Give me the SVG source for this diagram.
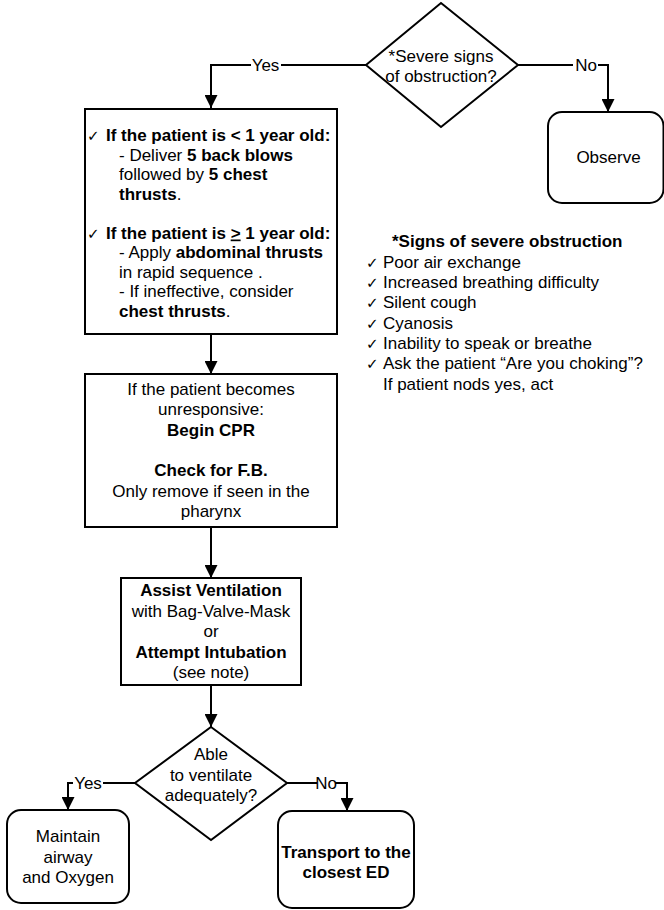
<svg xmlns="http://www.w3.org/2000/svg" width="664" height="910" viewBox="0 0 664 910">
  <style>
    text { font-family: "Liberation Sans", Arial, sans-serif; font-size: 17px; fill: #000; }
    .c { text-anchor: middle; }
    .b { font-weight: bold; }
    .chk { font-family: "DejaVu Sans", sans-serif; font-size: 15px; }
    .shape { fill: #fff; stroke: #000; stroke-width: 2; }
    .edge { fill: none; stroke: #000; stroke-width: 2; }
    .lbl { fill: #fff; stroke: none; }
  </style>
  <defs>
    <marker id="arrow" markerWidth="13" markerHeight="13" refX="13" refY="6.5" orient="auto" markerUnits="userSpaceOnUse">
      <path d="M0,0 L13,6.5 L0,13 Z" fill="#000"/>
    </marker>
  </defs>

  <rect width="664" height="910" fill="#fff"/>

  <!-- Connectors -->
  <g id="connectors">
    <!-- top decision: Yes branch -->
    <path class="edge" d="M366,65 H211 V108" marker-end="url(#arrow)"/>
    <rect class="lbl" x="251" y="57" width="30" height="17"/>
    <text class="c" x="265.5" y="71">Yes</text>
    <!-- top decision: No branch -->
    <path class="edge" d="M518,65 H608 V112" marker-end="url(#arrow)"/>
    <rect class="lbl" x="573" y="57" width="25" height="17"/>
    <text class="c" x="586" y="71">No</text>
    <!-- main chain -->
    <path class="edge" d="M211,334 V374" marker-end="url(#arrow)"/>
    <path class="edge" d="M211,527 V578" marker-end="url(#arrow)"/>
    <path class="edge" d="M211,685 V727" marker-end="url(#arrow)"/>
    <!-- bottom decision: Yes branch -->
    <path class="edge" d="M135,783 H68 V810" marker-end="url(#arrow)"/>
    <rect class="lbl" x="73" y="775" width="30" height="17"/>
    <text class="c" x="88" y="789">Yes</text>
    <!-- bottom decision: No branch -->
    <path class="edge" d="M287,783 H347 V811" marker-end="url(#arrow)"/>
    <rect class="lbl" x="317" y="775" width="18" height="17"/>
    <text class="c" x="326" y="789">No</text>
  </g>

  <!-- Decision: severe obstruction -->
  <g id="decision-severe">
    <polygon class="shape" points="441,3 518,65 441,127 366,65"/>
    <text class="c" x="441" y="62">*Severe signs</text>
    <text class="c" x="441" y="82">of obstruction?</text>
  </g>

  <!-- Observe -->
  <g id="observe">
    <rect class="shape" x="548" y="112" width="115.5" height="91" rx="14" ry="14"/>
    <text class="c" x="608.5" y="163">Observe</text>
  </g>

  <!-- Back blows / thrusts -->
  <g id="thrusts">
    <rect class="shape" x="85" y="109" width="252" height="225"/>
    <text class="chk" x="87" y="141">✓</text>
    <text class="b" x="106" y="141">If the patient is &lt; 1 year old:</text>
    <text x="119" y="160.5">- Deliver <tspan class="b">5 back blows</tspan></text>
    <text x="119" y="180">followed by <tspan class="b">5 chest</tspan></text>
    <text x="119" y="199.5"><tspan class="b">thrusts</tspan>.</text>
    <text class="chk" x="87" y="238.5">✓</text>
    <text class="b" x="106" y="238.5">If the patient is <tspan text-decoration="underline">&gt;</tspan> 1 year old:</text>
    <text x="119" y="258">- Apply <tspan class="b">abdominal thrusts</tspan></text>
    <text x="119" y="277.5">in rapid sequence .</text>
    <text x="119" y="297">- If ineffective, consider</text>
    <text x="119" y="316.5"><tspan class="b">chest thrusts</tspan>.</text>
  </g>

  <!-- Signs of severe obstruction -->
  <g id="signs-list">
    <text class="b" x="392" y="247">*Signs of severe obstruction</text>
    <text class="chk" x="366" y="267.5">✓</text>
    <text x="383" y="267.5">Poor air exchange</text>
    <text class="chk" x="366" y="288">✓</text>
    <text x="383" y="288">Increased breathing difficulty</text>
    <text class="chk" x="366" y="308">✓</text>
    <text x="383" y="308">Silent cough</text>
    <text class="chk" x="366" y="328.5">✓</text>
    <text x="383" y="328.5">Cyanosis</text>
    <text class="chk" x="366" y="349">✓</text>
    <text x="383" y="349">Inability to speak or breathe</text>
    <text class="chk" x="366" y="369">✓</text>
    <text x="383" y="369">Ask the patient “Are you choking”?</text>
    <text x="383" y="389.5">If patient nods yes, act</text>
  </g>

  <!-- Unresponsive: CPR -->
  <g id="cpr">
    <rect class="shape" x="85" y="374" width="252" height="153"/>
    <text class="c" x="211" y="395">If the patient becomes</text>
    <text class="c" x="211" y="415.3">unresponsive:</text>
    <text class="c b" x="211" y="435.6">Begin CPR</text>
    <text class="c b" x="211" y="476.3">Check for F.B.</text>
    <text class="c" x="211" y="496.6">Only remove if seen in the</text>
    <text class="c" x="211" y="517">pharynx</text>
  </g>

  <!-- Ventilation -->
  <g id="ventilation">
    <rect class="shape" x="121" y="578" width="180" height="107"/>
    <text class="c b" x="211" y="596">Assist Ventilation</text>
    <text class="c" x="211" y="616.5">with Bag-Valve-Mask</text>
    <text class="c" x="211" y="637">or</text>
    <text class="c b" x="211" y="657.5">Attempt Intubation</text>
    <text class="c" x="211" y="678">(see note)</text>
  </g>

  <!-- Decision: able to ventilate -->
  <g id="decision-ventilate">
    <polygon class="shape" points="211,727 287,783 211,840 135,783"/>
    <text class="c" x="211" y="760">Able</text>
    <text class="c" x="211" y="781">to ventilate</text>
    <text class="c" x="211" y="801">adequately?</text>
  </g>

  <!-- Maintain airway -->
  <g id="maintain">
    <rect class="shape" x="7" y="810" width="122" height="93" rx="14" ry="14"/>
    <text class="c" x="68" y="842">Maintain</text>
    <text class="c" x="68" y="862.5">airway</text>
    <text class="c" x="68" y="883">and Oxygen</text>
  </g>

  <!-- Transport -->
  <g id="transport">
    <rect class="shape" x="278" y="811" width="136" height="97" rx="14" ry="14"/>
    <text class="c b" x="346" y="858">Transport to the</text>
    <text class="c b" x="346" y="878">closest ED</text>
  </g>
</svg>
